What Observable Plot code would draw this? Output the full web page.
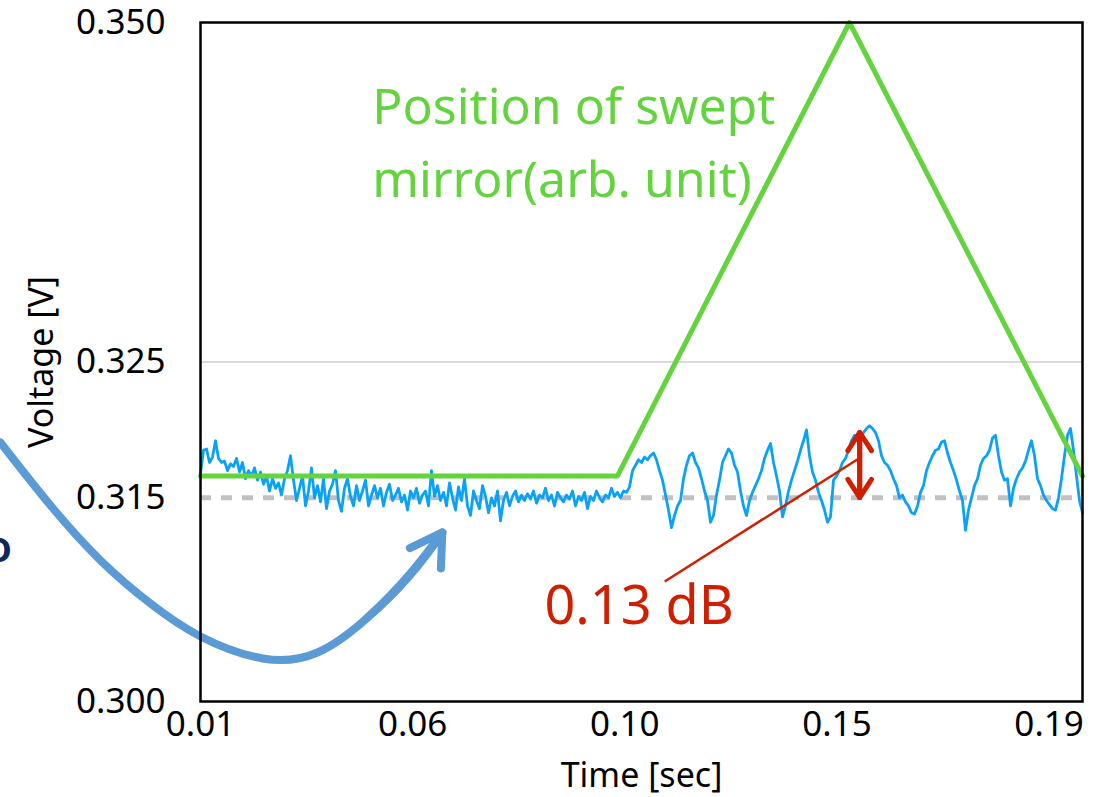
<!DOCTYPE html>
<html><head><meta charset="utf-8">
<script src="https://cdn.jsdelivr.net/npm/d3@7"></script>
<script src="https://cdn.jsdelivr.net/npm/@observablehq/plot@0.6"></script>
<style>html,body{margin:0;padding:0;background:#fff;} #chart{width:1107px;height:797px;overflow:hidden}</style>
</head><body><div id="chart"></div>
<script>
// ---- data ----
const timeStart = 0.01, timeEnd = 0.2;
const xTickValues = [0.01, 0.0557, 0.1014, 0.1471, 0.1928];
const xTickLabels = ["0.01", "0.06", "0.10", "0.15", "0.19"];
const yTickValues = [0.300, 0.315, 0.325, 0.350];
const yTickLabels = ["0.300", "0.315", "0.325", "0.350"];
const baselineVoltage = 0.315;
const gridVoltage = 0.325;

// measured voltage (mV), evenly sampled from 0.01 s to 0.2 s
const signalMilliVolts = [
316.8,318.5,318.6,317.6,318.0,319.2,317.9,317.6,317.7,317.0,317.5,
317.3,317.9,316.9,317.6,316.4,317.0,316.6,317.2,316.3,316.9,
316.0,316.6,315.5,316.4,315.7,316.1,315.2,316.4,317.0,318.1,
316.3,314.8,315.7,316.6,314.4,315.5,317.2,315.0,315.9,314.7,
316.4,314.2,315.5,316.0,317.0,314.8,314.0,315.7,316.4,315.1,
314.4,315.9,314.8,315.5,316.3,314.4,315.2,315.9,315.0,315.7,
314.4,315.4,316.0,314.8,315.2,315.7,314.7,315.2,314.1,315.5,
315.0,315.7,314.6,315.2,315.5,314.4,317.0,315.1,315.9,314.8,
315.4,314.4,316.1,315.0,314.1,315.8,314.8,316.4,314.4,313.7,
315.5,314.8,314.2,315.9,315.1,313.9,315.0,314.4,315.5,313.3,
314.8,315.4,314.4,315.1,315.5,314.7,315.2,314.8,315.3,314.9,
315.5,314.6,315.2,315.0,315.7,314.8,315.2,314.4,315.4,315.0,
314.7,315.2,314.9,315.5,314.4,315.1,314.8,315.4,314.2,315.1,
314.8,315.5,315.0,314.7,315.2,315.0,315.7,315.1,315.4,315.0,
315.5,315.4,315.8,317.0,317.4,317.8,317.6,318.0,317.8,318.1,
318.3,317.8,317.0,316.3,315.2,314.1,312.8,313.7,314.4,314.8,
316.4,317.4,318.1,318.3,317.6,317.2,316.4,315.5,314.8,313.2,
313.7,315.2,316.3,317.6,318.1,318.6,318.3,317.4,316.9,315.5,
314.4,313.7,314.8,315.4,315.9,316.4,317.0,317.9,318.5,319.0,
317.6,316.6,315.5,313.6,314.4,315.5,316.3,317.0,317.7,318.5,
319.2,320.0,318.1,316.9,316.3,315.4,314.8,314.1,313.2,313.6,
316.3,316.6,317.0,317.6,317.9,318.5,319.2,319.6,319.2,319.4,
319.8,320.1,320.3,320.1,319.8,319.2,318.1,317.6,317.4,317.0,
316.4,315.9,315.0,315.2,314.7,314.4,313.9,313.8,314.4,315.4,
315.9,317.0,317.6,318.1,318.5,318.6,319.1,319.2,318.3,317.6,
317.0,316.3,315.5,314.8,312.6,314.1,315.0,315.9,316.4,317.4,
317.9,318.1,318.5,319.4,319.6,318.1,316.9,316.3,316.4,314.4,
315.7,316.4,316.9,317.2,317.7,318.5,319.2,318.1,316.4,315.9,
315.2,314.8,314.5,314.2,314.1,315.0,316.4,318.1,319.6,320.1,
318.5,316.6,314.8,313.9
];

// swept mirror position (arb. unit, drawn on the voltage axis)
const mirrorTimes = [0.01, 0.0998, 0.1498, 0.2];
const mirrorLevels = [0.3166, 0.3166, 0.350, 0.3166];

// annotations (data coordinates)
const mirrorLabel = {t: 0.0470, v: 0.3463, text: "Position of swept\nmirror(arb. unit)"};
const dbLabel = {t: 0.1045, v: 0.30700, text: "0.13 dB"};
const dbLeader = {t1: 0.1100, v1: 0.30884, t2: 0.1515, v2: 0.31782};
const dbSpan = {t: 0.1520, vLow: 0.31502, vHigh: 0.31981};
const curveTimes = [-0.0331, -0.0223, -0.0115, -0.0008, 0.0100, 0.0234, 0.0352, 0.0460, 0.0552, 0.0621];
const curveVolts = [0.31907, 0.31443, 0.31038, 0.30722, 0.30479, 0.30317, 0.30361, 0.30619, 0.30943, 0.31245];
const cutText = {t: -0.0335, v: 0.3113, text: "o"};

// ---- build ----
const dt = (timeEnd - timeStart) / (signalMilliVolts.length - 1);
const signal = signalMilliVolts.map((mv, i) => ({t: timeStart + i * dt, v: mv / 1000}));
const mirror = mirrorTimes.map((t, i) => ({t, v: mirrorLevels[i]}));
const curve = curveTimes.map((t, i) => ({t, v: curveVolts[i]}));
const n = curve.length;

const red = "#d01f00", green = "#63d33e", font = "Noto Sans";

const chart = Plot.plot({
  width: 1107, height: 797,
  marginLeft: 200, marginRight: 25, marginTop: 22, marginBottom: 96,
  style: {fontFamily: font, fontSize: "35px", color: "#000", background: "#fff"},
  x: {domain: [timeStart, timeEnd]},
  y: {domain: [0.300, 0.350]},
  marks: [
    Plot.ruleY([gridVoltage], {stroke: "#cccccc", strokeWidth: 1.5}),
    Plot.ruleY([baselineVoltage], {stroke: "#c3bfc3", strokeWidth: 5, strokeDasharray: "11,10"}),
    Plot.line(signal, {x: "t", y: "v", stroke: "#0aa2f7", strokeWidth: 2.8}),
    Plot.line(mirror, {x: "t", y: "v", stroke: green, strokeWidth: 5}),
    Plot.line(curve, {x: "t", y: "v", stroke: "#5b9bd5", strokeWidth: 8, curve: "natural"}),
    Plot.arrow([0], {x1: () => curveTimes[n - 3], y1: () => curveVolts[n - 3], x2: () => curveTimes[n - 1], y2: () => curveVolts[n - 1],
      stroke: "#5b9bd5", strokeWidth: 8, headLength: 6.75, headAngle: 62, bend: -8}),
    Plot.frame({stroke: "#000", strokeWidth: 2.5}),
    Plot.axisX({ticks: xTickValues, tickFormat: d => xTickLabels[xTickValues.indexOf(d)], tickSize: 0, tickPadding: 10, label: null, fontSize: 35}),
    Plot.axisY({ticks: yTickValues, tickFormat: d => yTickLabels[yTickValues.indexOf(d)], tickSize: 0, tickPadding: 35, label: null, fontSize: 35}),
    Plot.text([mirrorLabel], {x: "t", y: "v", text: "text", textAnchor: "start", lineAnchor: "top", lineHeight: 1.45, fontSize: 50, fill: green}),
    Plot.link([dbLeader], {x1: "t1", y1: "v1", x2: "t2", y2: "v2", stroke: red, strokeWidth: 2.5}),
    Plot.arrow([dbSpan], {x1: "t", y1: "vLow", x2: "t", y2: "vHigh", stroke: red, strokeWidth: 5, headLength: 7, headAngle: 66}),
    Plot.arrow([dbSpan], {x1: "t", y1: "vHigh", x2: "t", y2: "vLow", stroke: red, strokeWidth: 5, headLength: 7, headAngle: 66}),
    Plot.text([dbLabel], {x: "t", y: "v", text: "text", fontSize: 54, fill: red}),
    Plot.text([cutText], {x: "t", y: "v", text: "text", fontSize: 44, fill: "#0b2a5b", fontWeight: 600}),
    Plot.text(["Voltage [V]"], {frameAnchor: "left", dx: -158, rotate: -90, textAnchor: "middle", lineAnchor: "middle", fontSize: 34}),
    Plot.text(["Time [sec]"], {frameAnchor: "bottom", dy: 75, textAnchor: "middle", lineAnchor: "middle", fontSize: 34})
  ]
});
document.getElementById("chart").appendChild(chart);
</script>
</body></html>
